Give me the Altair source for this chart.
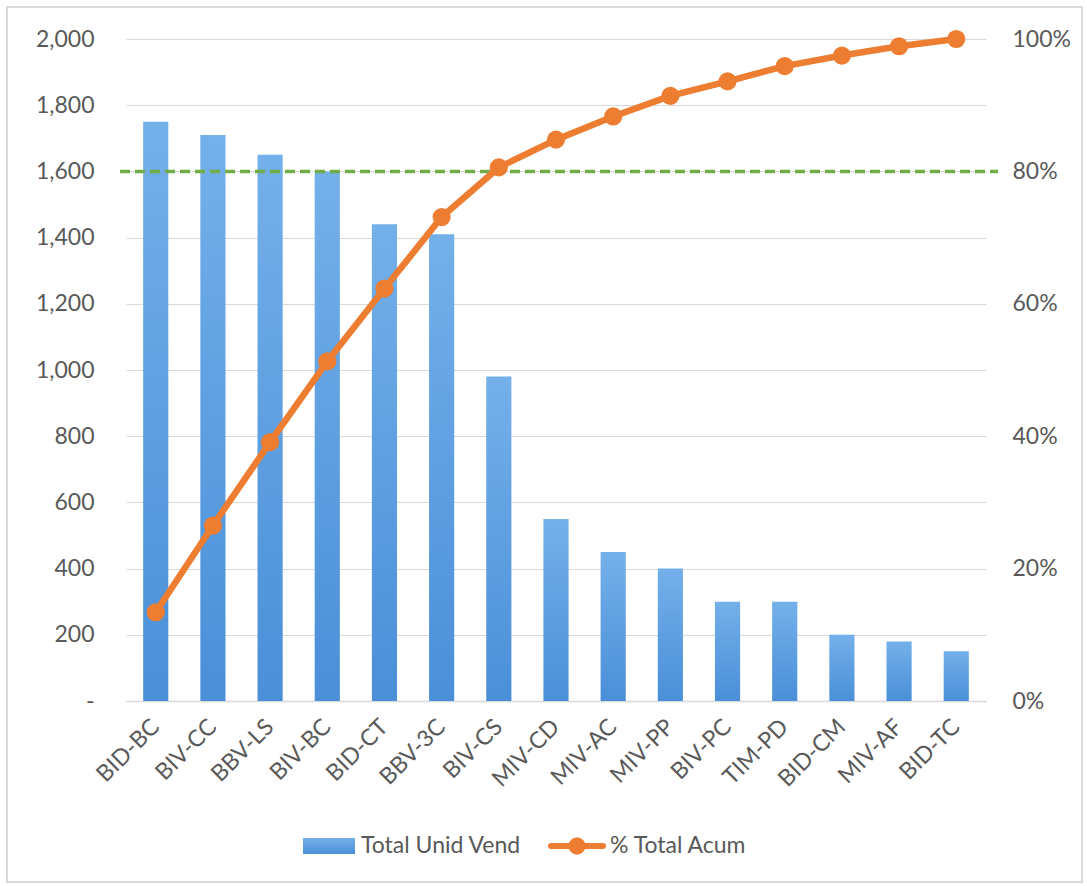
import altair as alt
import pandas as pd

categories = ["BID-BC", "BIV-CC", "BBV-LS", "BIV-BC", "BID-CT", "BBV-3C", "BIV-CS",
              "MIV-CD", "MIV-AC", "MIV-PP", "BIV-PC", "TIM-PD", "BID-CM", "MIV-AF", "BID-TC"]
units = [1750, 1710, 1650, 1600, 1440, 1410, 980, 550, 450, 400, 300, 300, 200, 180, 150]
pct_acum = [0.134, 0.265, 0.391, 0.513, 0.623, 0.731, 0.806, 0.848, 0.883, 0.914,
            0.936, 0.959, 0.975, 0.989, 1.0]
threshold = 0.8

df = pd.DataFrame({"cat": categories, "units": units, "pct": pct_acum})

FONT = "Lato"
GRAY = "#595959"
ORANGE = "#ED7D31"
GREEN = "#70AD47"
FS = 23

W, H = 860, 662

x = alt.X("cat:N", sort=categories, title=None,
          scale=alt.Scale(paddingInner=0.56, paddingOuter=0.3),
          axis=alt.Axis(labelAngle=-45, labelFontSize=FS, labelColor=GRAY, labelFont=FONT,
                        ticks=False, domainColor="#D9D9D9", domainWidth=1.5, labelPadding=22,
                        labelAlign="right", labelBaseline="middle"))

grad = alt.Gradient(gradient="linear", x1=0, x2=0, y1=0, y2=1,
                    stops=[alt.GradientStop(color="#74B0EA", offset=0),
                           alt.GradientStop(color="#4A8FD8", offset=1)])

bars = alt.Chart(df).mark_bar(color=grad).encode(
    x=x,
    y=alt.Y("units:Q", title=None, scale=alt.Scale(domain=[0, 2000]),
            axis=alt.Axis(values=list(range(0, 2001, 200)), orient="left",
                          labelExpr="datum.value == 0 ? '-' : format(datum.value, ',')",
                          labelFontSize=FS, labelColor=GRAY, labelFont=FONT, ticks=False,
                          domain=False, gridColor="#D9D9D9", gridWidth=1.2, labelPadding=32))
)

ybase = alt.Y("pct:Q", title=None, scale=alt.Scale(domain=[0, 1]),
              axis=alt.Axis(values=[0, 0.2, 0.4, 0.6, 0.8, 1.0], format=".0%", orient="right",
                            labelFontSize=FS, labelColor=GRAY, labelFont=FONT, ticks=False,
                            domain=False, grid=False, labelPadding=26))

rule = alt.Chart(pd.DataFrame({"pct": [threshold]})).mark_rule(
    color=GREEN, strokeWidth=3.5, strokeDash=[10, 5]
).encode(y=ybase, x=alt.value(-6), x2=alt.value(W + 12))

line = alt.Chart(df).mark_line(color=ORANGE, strokeWidth=6.5).encode(x=x, y=ybase)
pts = alt.Chart(df).mark_point(color=ORANGE, filled=True, opacity=1, size=330).encode(x=x, y=ybase)

right = alt.layer(rule, line, pts)

one = pd.DataFrame({"a": [0]})
leg_rect = alt.Chart(one).mark_rect(color=grad).encode(
    x=alt.value(177), x2=alt.value(229), y=alt.value(799), y2=alt.value(815))
leg_t1 = alt.Chart(one).mark_text(text="Total Unid Vend", align="left", baseline="middle",
                                  fontSize=FS, font=FONT, color=GRAY).encode(
    x=alt.value(235), y=alt.value(807))
leg_line = alt.Chart(one).mark_rule(color=ORANGE, strokeWidth=6, strokeCap="round").encode(
    x=alt.value(425), x2=alt.value(477), y=alt.value(807))
leg_pt = alt.Chart(one).mark_point(color=ORANGE, filled=True, opacity=1, size=300).encode(
    x=alt.value(451), y=alt.value(807))
leg_t2 = alt.Chart(one).mark_text(text="% Total Acum", align="left", baseline="middle",
                                  fontSize=FS, font=FONT, color=GRAY).encode(
    x=alt.value(484), y=alt.value(807))
frame = alt.Chart(one).mark_rect(fill="transparent", stroke="#D9D9D9", strokeWidth=2).encode(
    x=alt.value(-119), x2=alt.value(956), y=alt.value(-32), y2=alt.value(843))

chart = alt.layer(bars, right, leg_rect, leg_t1, leg_line, leg_pt, leg_t2, frame).resolve_scale(
    y="independent"
).properties(
    width=W, height=H,
    autosize=alt.AutoSizeParams(type="none"),
    padding={"left": 126, "top": 39, "right": 101, "bottom": 185},
    background="white"
).configure_view(stroke=None)

chart.save("out.html", embed_options={"renderer": "svg", "actions": False})
